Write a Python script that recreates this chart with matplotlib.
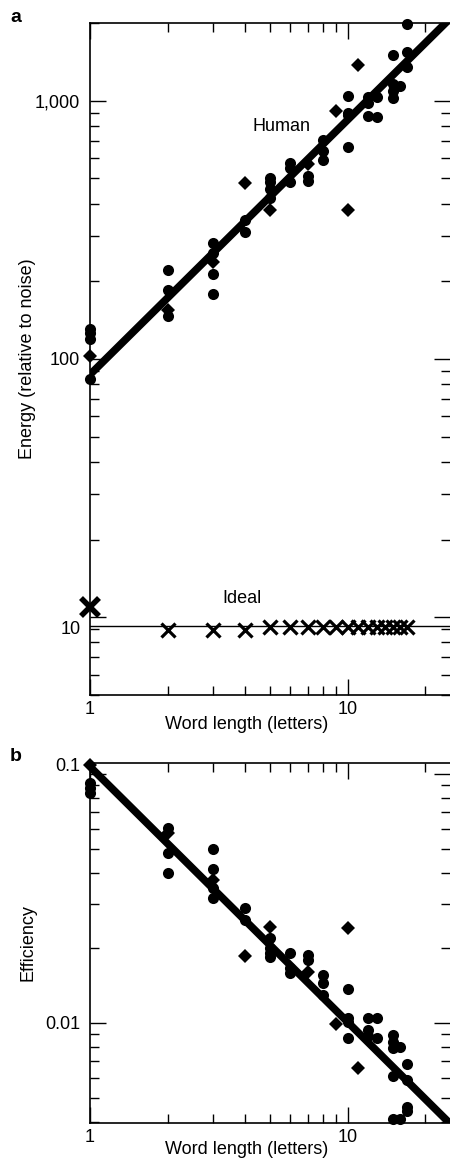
import numpy as np
import matplotlib.pyplot as plt
from matplotlib.ticker import FixedLocator, LogLocator, NullFormatter
from matplotlib.transforms import ScaledTranslation

plt.rcParams['font.family'] = ['Liberation Sans', 'DejaVu Sans']

# -------------------------
# PANEL A: ENERGY (relative to noise)
# -------------------------
human_circle_x = [1, 1, 1, 1, 2, 2, 2, 3, 3, 3, 3, 4, 4, 5, 5, 5, 5, 6, 6, 6, 7, 7,
                  8, 8, 8, 10, 10, 10, 10, 12, 12, 12, 13, 13, 15, 15, 15, 15, 16,
                  17, 17, 17]
human_circle_y = [131, 126, 120, 84, 222, 185, 147, 281, 257, 213, 178, 345, 311,
                  500, 485, 455, 420, 575, 550, 483, 510, 490, 705, 636, 587,
                  1045, 900, 877, 662, 1035, 978, 870, 1036, 867, 1505, 1160, 1090,
                  1022, 1140, 1982, 1540, 1345]
human_diamond_x = [1, 2, 3, 4, 5, 7, 9, 10, 11]
human_diamond_y = [103, 155, 238, 479, 378, 570, 910, 378, 1380]
human_fit_x = [1, 25]
human_fit_y = [87, 2080]

ideal_x = [1, 2, 3, 4, 5, 6, 7, 8, 9, 10, 11, 12, 13, 14, 15, 16, 17]
ideal_y = [11.0, 8.93, 8.93, 8.93, 9.14, 9.14, 9.14, 9.14, 9.14, 9.14, 9.14,
           9.14, 9.14, 9.14, 9.14, 9.14, 9.14]
ideal_line_x = [1, 25]
ideal_line_y = [9.25, 9.25]

# -------------------------
# PANEL B: EFFICIENCY
# -------------------------
eff_circle_x = [1, 1, 1, 2, 2, 2, 3, 3, 3, 3, 4, 4, 5, 5, 5, 5, 6, 6, 6, 7, 7,
                8, 8, 8, 10, 10, 10, 10, 12, 12, 12, 13, 13, 15, 15, 15, 15, 15,
                16, 16, 17, 17, 17, 17]
eff_circle_y = [0.0918, 0.0876, 0.0836, 0.0606, 0.048, 0.040, 0.0499, 0.0415,
                0.0347, 0.0316, 0.0288, 0.0259, 0.0218, 0.0199, 0.0190, 0.0184,
                0.0190, 0.0166, 0.0158, 0.0187, 0.0179, 0.0156, 0.0144, 0.0129,
                0.0137, 0.0104, 0.0101, 0.00865, 0.0104, 0.00935, 0.0088,
                0.0104, 0.00865, 0.0089, 0.0084, 0.0079, 0.0061, 0.0041,
                0.0080, 0.0041, 0.0068, 0.0059, 0.0046, 0.0044]
eff_diamond_x = [1, 2, 3, 4, 5, 7, 9, 10, 11]
eff_diamond_y = [0.109, 0.0577, 0.0375, 0.0185, 0.0242, 0.0160, 0.0099, 0.024, 0.0066]
eff_fit_x = [1, 25]
eff_fit_y = [0.107, 0.00393]

x_major = [1, 10]
x_major_labels = ['1', '10']
x_minor = [2, 3, 4, 5, 6, 7, 8, 9, 20]

FS = 13


def style_axes(ax):
    ax.set_xscale('log')
    ax.set_yscale('log')
    ax.set_xlim(1, 25)
    ax.xaxis.set_major_locator(FixedLocator(x_major))
    ax.xaxis.set_minor_locator(FixedLocator(x_minor))
    ax.set_xticklabels(x_major_labels)
    ax.xaxis.set_minor_formatter(NullFormatter())
    ax.yaxis.set_minor_locator(LogLocator(base=10, subs=np.arange(2, 10)))
    ax.yaxis.set_minor_formatter(NullFormatter())
    ax.tick_params(which='both', direction='in', top=True, right=True,
                   width=1.0, labelsize=FS)
    ax.tick_params(which='major', length=11.5)
    ax.tick_params(which='minor', length=6.5)
    ax.tick_params(axis='y', which='major', pad=7)
    ax.tick_params(axis='x', which='major', pad=4)
    for s in ax.spines.values():
        s.set_linewidth(1.2)
    ax.spines['right'].set_visible(False)
    ax.set_xlabel('Word length (letters)', fontsize=FS)


fig = plt.figure(figsize=(4.5, 11.59), dpi=100)
ax_a = fig.add_axes([0.2, 0.40035, 0.8, 0.57981])
ax_b = fig.add_axes([0.2, 0.03106, 0.8, 0.31062])

# -------------------------
# DRAW PANEL A
# -------------------------
ax_a.plot(human_fit_x, human_fit_y, color='black', lw=5.5, solid_capstyle='butt')
ax_a.plot(ideal_line_x, ideal_line_y, color='black', lw=1.0)
ax_a.plot(human_circle_x, human_circle_y, 'o', color='black', ms=8, mew=0, clip_on=False)
ax_a.plot(human_diamond_x, human_diamond_y, 'D', color='black', ms=6.8, mew=0, clip_on=False)
ax_a.plot(ideal_x[1:], ideal_y[1:], 'x', color='black', ms=10.5, mew=2.3, clip_on=False)
ax_a.plot(ideal_x[:1], ideal_y[:1], 'x', color='black', ms=12.5, mew=4, clip_on=False)
style_axes(ax_a)
ax_a.set_ylim(5, 2000)
ax_a.set_yticks([10, 100, 1000])
ax_a.set_yticklabels(['10', '100', '1,000'])
ax_a.set_ylabel('Energy (relative to noise)', fontsize=FS)
ax_a.yaxis.set_label_coords(-0.15, 0.5)
ax_a.xaxis.set_label_coords(0.436, -0.031)
ax_a.text(5.56, 798, 'Human', fontsize=FS, ha='center', va='center')
ax_a.text(3.89, 11.8, 'Ideal', fontsize=FS, ha='center', va='center')

lab = ax_a.get_yticklabels()[0]
lab.set_transform(lab.get_transform() + ScaledTranslation(0, -10 / 100, fig.dpi_scale_trans))

# -------------------------
# DRAW PANEL B
# -------------------------
ax_b.plot(eff_fit_x, eff_fit_y, color='black', lw=5.5, solid_capstyle='butt')
ax_b.plot(eff_circle_x, eff_circle_y, 'o', color='black', ms=8, mew=0, clip_on=False)
ax_b.plot(eff_diamond_x, eff_diamond_y, 'D', color='black', ms=6.8, mew=0, clip_on=False)
style_axes(ax_b)
ax_b.set_ylim(0.00395, 0.1107)
ax_b.set_yticks([0.01, 0.1])
ax_b.set_yticklabels(['0.01', '0.1'])
ax_b.set_ylabel('Efficiency', fontsize=FS)
ax_b.yaxis.set_label_coords(-0.15, 0.5)
ax_b.xaxis.set_label_coords(0.436, -0.05)

lab = ax_b.get_yticklabels()[1]
lab.set_transform(lab.get_transform() + ScaledTranslation(0, 9 / 100, fig.dpi_scale_trans))

fig.text(16 / 450, 1 - 22 / 1159, 'a', fontsize=14, fontweight='bold', ha='center', va='baseline')
fig.text(16 / 450, 1 - 761 / 1159, 'b', fontsize=14, fontweight='bold', ha='center', va='baseline')

fig.savefig('out.png', dpi=100)
